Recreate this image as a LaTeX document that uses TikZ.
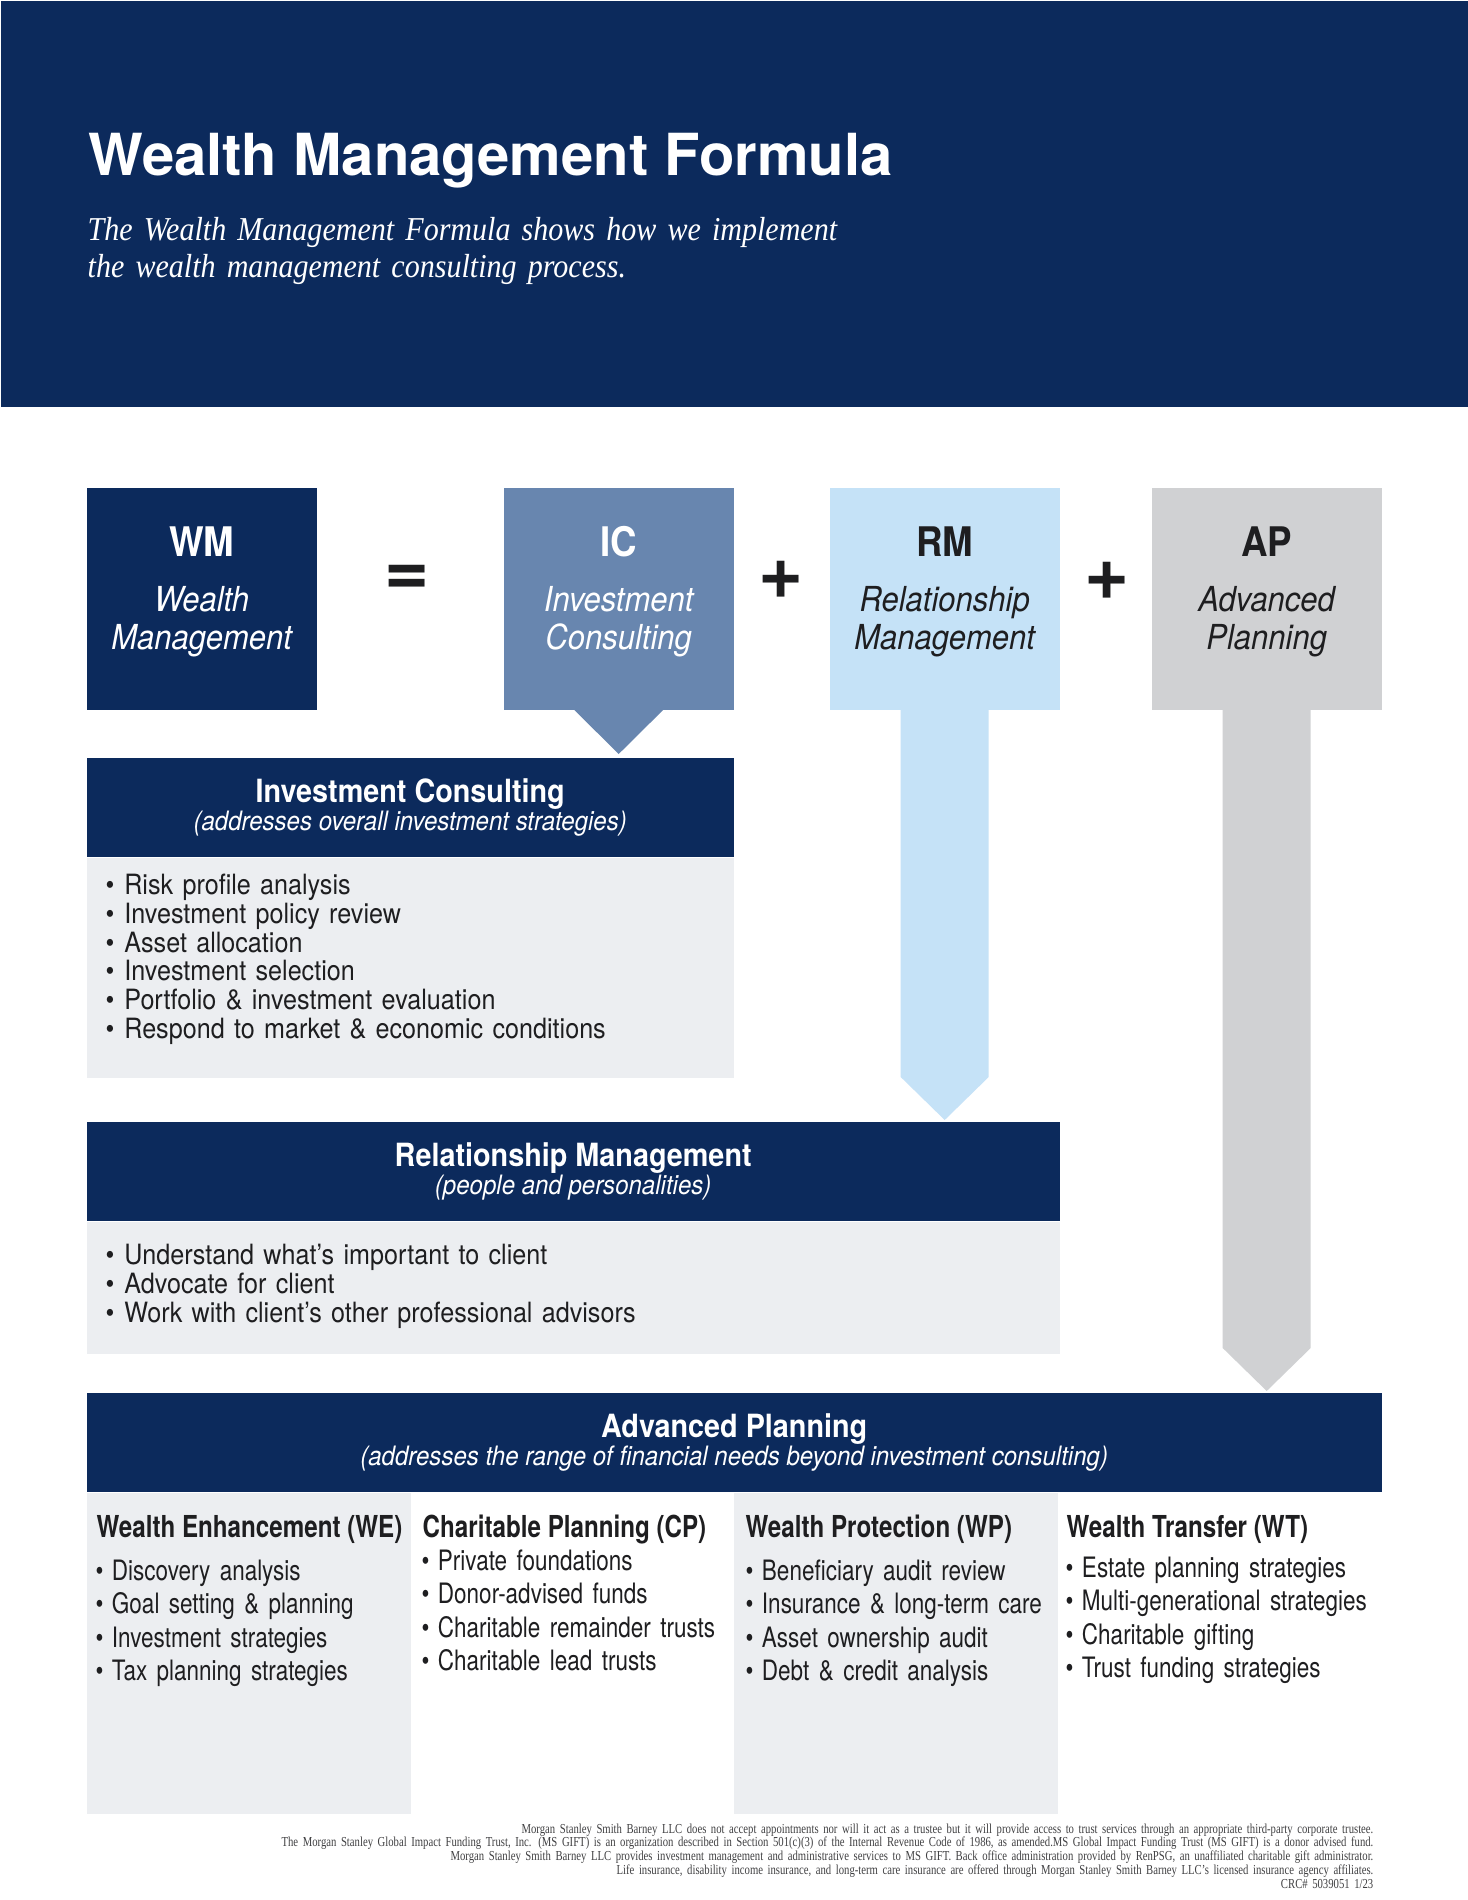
\documentclass[tikz,border=0pt]{standalone}
\usepackage{fontspec}
\newfontfamily\titlefont{TeX Gyre Heros}
\newfontfamily\condfont{TeX Gyre Heros}[FakeStretch=0.90]
\newfontfamily\narrowfont{TeX Gyre Heros}[FakeStretch=0.80]
\newfontfamily\leadfont{Liberation Serif}[FakeStretch=0.90]
\newfontfamily\finefont{Liberation Serif}[FakeStretch=0.78]
\usetikzlibrary{positioning, calc}

\definecolor{navy}{RGB}{12,42,92}
\definecolor{icblue}{RGB}{104,134,175}
\definecolor{rmblue}{RGB}{197,226,247}
\definecolor{apgray}{RGB}{208,209,211}
\definecolor{panelgray}{RGB}{236,238,241}
\definecolor{ink}{RGB}{30,30,32}

\newcommand{\boxabbr}[1]{{\upshape\bfseries\fontsize{11.6}{12}\selectfont #1}}
\newcommand{\sectitle}[1]{{\bfseries #1}}
\newcommand{\secnote}[1]{{\itshape\fontsize{7.6}{8}\selectfont #1}}
\newcommand{\bul}{\textbullet\hspace{2.8pt}}
\newcommand{\colbul}{\textbullet\hspace{2.4pt}}
\newcommand{\stemhalf}{44}
\newcommand{\tipdrop}{44}

\begin{document}
\begin{tikzpicture}[
    x=0.1mm, y=-0.1mm,
    topbox/.style={
        rectangle,
        inner sep=0,
        minimum width=23mm,
        minimum height=22.2mm,
        anchor=north west
    },
    toptext/.style={
        align=center,
        text width=23mm,
        inner sep=0,
        anchor=base,
        font=\condfont\itshape\fontsize{9.8}{10.8}\selectfont
    },
    sign/.style={
        inner sep=0,
        text=ink,
        font=\titlefont\bfseries\fontsize{22}{22}\selectfont
    },
    sechead/.style={
        rectangle,
        fill=navy,
        text=white,
        inner sep=0,
        minimum height=9.9mm,
        align=center,
        anchor=north west,
        font=\condfont\fontsize{9.1}{8}\selectfont
    },
    panel/.style={
        rectangle,
        fill=panelgray,
        inner sep=0
    },
    itemlist/.style={
        align=left,
        text width=90mm,
        inner sep=0,
        anchor=base west,
        text=ink,
        font=\condfont\fontsize{7.95}{8.2}\selectfont
    },
    colhead/.style={
        inner sep=0,
        anchor=base west,
        text=ink,
        font=\narrowfont\bfseries\fontsize{8.6}{9}\selectfont
    },
    collist/.style={
        align=left,
        text width=36mm,
        inner sep=0,
        anchor=base west,
        text=ink,
        font=\narrowfont\fontsize{8.0}{9.5}\selectfont
    }
]

    \useasboundingbox (0,0) rectangle (1468,1900);
    \fill[white] (0,0) rectangle (1468,1900);

    % --- Title band ---
    \node[fill=navy, inner sep=0, minimum width=146.8mm, minimum height=40.6mm, anchor=north west] (band) at (0,0) {};
    \node[inner sep=0, anchor=base west, text=white, font=\titlefont\bfseries\fontsize{16.5}{18}\selectfont]
        (title) at ([shift={(88,175)}]band.north west) {Wealth Management Formula};
    \node[inner sep=0, anchor=base west, align=left, text width=90mm, text=white, font=\leadfont\itshape\fontsize{9.5}{10.8}\selectfont]
        (subtitle) at ([shift={(87,240)}]band.north west) {The Wealth Management Formula shows how we implement\\the wealth management consulting process.};

    % --- Formula row ---
    \node[topbox, fill=navy]   (wm) at (86,487) {};
    \node[topbox, fill=icblue] (ic) at (503,487) {};
    \node[topbox, fill=rmblue] (rm) at (829,487) {};
    \node[topbox, fill=apgray] (ap) at (1151,487) {};

    \node[toptext, text=white] (wmtext) at ([shift={(0,69)}]wm.north) {\boxabbr{WM}\\[5pt]Wealth\\Management};
    \node[toptext, text=white] (ictext) at ([shift={(0,69)}]ic.north) {\boxabbr{IC}\\[5pt]Investment\\Consulting};
    \node[toptext, text=ink]   (rmtext) at ([shift={(0,69)}]rm.north) {\boxabbr{RM}\\[5pt]Relationship\\Management};
    \node[toptext, text=ink]   (aptext) at ([shift={(0,69)}]ap.north) {\boxabbr{AP}\\[5pt]Advanced\\Planning};

    \node[sign] (equals) at (407,580) {=};
    \node[sign] (plusa)  at (781,580) {+};
    \node[sign] (plusb)  at (1107,581) {+};

    % --- Investment Consulting ---
    \node[sechead, minimum width=64.7mm] (icsec) at (86,757)
        {\sectitle{Investment Consulting}\\\secnote{(addresses overall investment strategies)}};
    \node[panel, minimum width=64.7mm, minimum height=22mm, below=0pt of icsec] (icbody) {};
    \node[itemlist] (iclist) at ([shift={(19,37)}]icbody.north west) {%
        \bul Risk profile analysis\\
        \bul Investment policy review\\
        \bul Asset allocation\\
        \bul Investment selection\\
        \bul Portfolio \& investment evaluation\\
        \bul Respond to market \& economic conditions};

    % --- Relationship Management ---
    \node[sechead, minimum width=97.3mm] (rmsec) at (86,1121)
        {\sectitle{Relationship Management}\\\secnote{(people and personalities)}};
    \node[panel, minimum width=97.3mm, minimum height=13.2mm, below=0pt of rmsec] (rmbody) {};
    \node[itemlist] (rmlist) at ([shift={(19,43)}]rmbody.north west) {%
        \bul Understand what’s important to client\\
        \bul Advocate for client\\
        \bul Work with client’s other professional advisors};

    % --- Advanced Planning ---
    \node[sechead, minimum width=129.5mm] (apsec) at (86,1392)
        {\sectitle{Advanced Planning}\\\secnote{(addresses the range of financial needs beyond investment consulting)}};
    \node[panel, minimum width=32.4mm, minimum height=32.1mm, anchor=north west] (wepanel) at (apsec.south west) {};
    \node[panel, minimum width=32.4mm, minimum height=32.1mm, anchor=north west] (wppanel) at ([shift={(647,0)}]apsec.south west) {};

    \node[colhead] (wehead) at ([shift={(10,45)}]apsec.south west)  {Wealth Enhancement (WE)};
    \node[colhead] (cphead) at ([shift={(336,45)}]apsec.south west) {Charitable Planning (CP)};
    \node[colhead] (wphead) at ([shift={(659,45)}]apsec.south west) {Wealth Protection (WP)};
    \node[colhead] (wthead) at ([shift={(980,45)}]apsec.south west) {Wealth Transfer (WT)};

    \node[collist] (welist) at ([shift={(9,88)}]apsec.south west) {%
        \colbul Discovery analysis\\
        \colbul Goal setting \& planning\\
        \colbul Investment strategies\\
        \colbul Tax planning strategies};
    \node[collist] (cplist) at ([shift={(335,78)}]apsec.south west) {%
        \colbul Private foundations\\
        \colbul Donor-advised funds\\
        \colbul Charitable remainder trusts\\
        \colbul Charitable lead trusts};
    \node[collist] (wplist) at ([shift={(659,88)}]apsec.south west) {%
        \colbul Beneficiary audit review\\
        \colbul Insurance \& long-term care\\
        \colbul Asset ownership audit\\
        \colbul Debt \& credit analysis};
    \node[collist] (wtlist) at ([shift={(979,85)}]apsec.south west) {%
        \colbul Estate planning strategies\\
        \colbul Multi-generational strategies\\
        \colbul Charitable gifting\\
        \colbul Trust funding strategies};

    % --- Pointers from the formula boxes to their sections ---
    \fill[icblue] ($(ic.south)+(-45,-1)$) -- ($(ic.south)+(45,-1)$) -- ($(ic.south |- icsec.north)+(0,-3)$) -- cycle;

    \fill[rmblue] ($(rm.south)+(-\stemhalf,-1)$) -- ($(rm.south)+(\stemhalf,-1)$)
        -- ($(rm.south |- rmsec.north)+(\stemhalf,-\tipdrop)$) -- ($(rm.south |- rmsec.north)+(0,-1)$)
        -- ($(rm.south |- rmsec.north)+(-\stemhalf,-\tipdrop)$) -- cycle;

    \fill[apgray] ($(ap.south)+(-\stemhalf,-1)$) -- ($(ap.south)+(\stemhalf,-1)$)
        -- ($(ap.south |- apsec.north)+(\stemhalf,-\tipdrop)$) -- ($(ap.south |- apsec.north)+(0,-1)$)
        -- ($(ap.south |- apsec.north)+(-\stemhalf,-\tipdrop)$) -- cycle;

    % --- Disclaimer ---
    \node[align=right, text width=130mm, inner sep=0, anchor=base east, text=ink!85,
          font=\finefont\fontsize{3.9}{3.95}\selectfont] (disclaimer) at (1374,1833) {%
        Morgan Stanley Smith Barney LLC does not accept appointments nor will it act as a trustee but it will provide access to trust services through an appropriate third-party corporate trustee.\\
        The Morgan Stanley Global Impact Funding Trust, Inc. (MS GIFT) is an organization described in Section 501(c)(3) of the Internal Revenue Code of 1986, as amended.MS Global Impact Funding Trust (MS GIFT) is a donor advised fund.\\
        Morgan Stanley Smith Barney LLC provides investment management and administrative services to MS GIFT. Back office administration provided by RenPSG, an unaffiliated charitable gift administrator.\\
        Life insurance, disability income insurance, and long-term care insurance are offered through Morgan Stanley Smith Barney LLC’s licensed insurance agency affiliates.\\
        CRC\# 5039051 1/23};

\end{tikzpicture}
\end{document}
